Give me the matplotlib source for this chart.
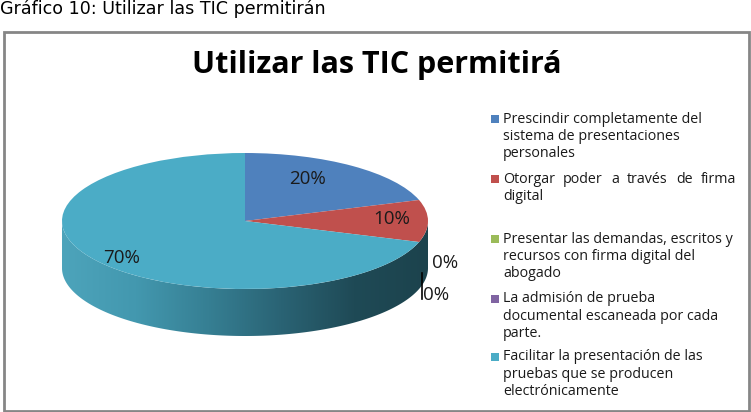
import numpy as np
import matplotlib
matplotlib.use("Agg")
import matplotlib.pyplot as plt
from matplotlib.patches import Rectangle, Polygon
from matplotlib.colors import LinearSegmentedColormap

# ---------------- data ----------------
caption = "Gráfico 10: Utilizar las TIC permitirán"
title = "Utilizar las TIC permitirá"
categories = [
    ["Prescindir completamente del", "sistema de presentaciones", "personales"],
    ["Otorgar poder a través de firma", "digital", ""],
    ["Presentar las demandas, escritos y", "recursos con firma digital del", "abogado"],
    ["La admisión de prueba", "documental escaneada por cada", "parte."],
    ["Facilitar la presentación de las", "pruebas que se producen", "electrónicamente"],
]
values = [20, 10, 0, 0, 70]
pct_labels = ["20%", "10%", "0%", "0%", "70%"]
colors = ["#4F81BD", "#C0504D", "#9BBB59", "#8064A2", "#4BACC6"]

W, H = 751, 412
fig = plt.figure(figsize=(W / 100, H / 100), dpi=100)
fig.patch.set_facecolor("white")

# overlay axes in pixel coordinates
bg = fig.add_axes([0, 0, 1, 1])
bg.set_xlim(0, W)
bg.set_ylim(H, 0)
bg.axis("off")

bg.text(0, 8.5, caption, fontsize=12.6, family="DejaVu Sans", va="center", ha="left", color="#000000")
bg.add_patch(Rectangle((3.5, 32), 745, 378.5, fill=False, edgecolor="#868686", linewidth=2))
bg.text(377, 65, title, fontsize=22, family="Open Sans", fontweight="bold", ha="center", va="center", color="#000000")

# ---------------- pie ----------------
cx, cy, rx, ry, depth_px = 245, 221, 183, 68, 47
x0p, x1p, y0p, y1p = 40, 450, 140, 345
ax = fig.add_axes([x0p / W, (H - y1p) / H, (x1p - x0p) / W, (y1p - y0p) / H])
ax.pie(values, colors=colors, startangle=90, counterclock=False, radius=1,
       wedgeprops=dict(linewidth=0), frame=False)
ax.set_aspect("auto")
ax.axis("off")
d = depth_px / ry

# front wall (visible half of the rim), shaded like the large slice
wall_cmap = LinearSegmentedColormap.from_list(
    "wall", ["#4DA4BB", "#4398AF", "#367F93", "#2A6374", "#1F4A56", "#1C434D"])
t = np.radians(np.linspace(180, 360, 300))
xs, ys = np.cos(t), np.sin(t)
poly = np.vstack([np.column_stack([xs, ys]), np.column_stack([xs[::-1], ys[::-1] - d])])
wall = Polygon(poly, closed=True, facecolor="none", edgecolor="none")
ax.add_patch(wall)
grad = np.linspace(0, 1, 256).reshape(1, -1)
im = ax.imshow(grad, cmap=wall_cmap, extent=[-1, 1, -1 - d, 0.05], aspect="auto", zorder=0.5)
im.set_clip_path(wall)
ax.set_xlim((x0p - cx) / rx, (x1p - cx) / rx)
ax.set_ylim(-(y1p - cy) / ry, (cy - y0p) / ry)

lab_font = dict(family="Open Sans", fontsize=13.5, color="#1A1A1A")
lab_pos = {0: (0.339, 0.618), 1: (0.803, 0.029), 4: (-0.672, -0.544)}
for i, (px, py) in lab_pos.items():
    ax.text(px, py, pct_labels[i], ha="center", va="center", **lab_font)
ax.text((445 - cx) / rx, -(263 - cy) / ry, pct_labels[2], ha="center", va="center", clip_on=False, **lab_font)
ax.text((423 - cx) / rx, -(295 - cy) / ry, pct_labels[3], ha="left", va="center", clip_on=False, **lab_font)
ax.plot([(422 - cx) / rx] * 2, [-(273 - cy) / ry, -(299 - cy) / ry], color="#000000", lw=1.2, clip_on=False)

# ---------------- legend ----------------
leg_font = dict(family="Open Sans", fontsize=10.25, color="#1A1A1A")
entry_y = [119, 179, 239, 299, 357]
line_h = 17.3
fig.canvas.draw()
renderer = fig.canvas.get_renderer()
for k, lines in enumerate(categories):
    y = entry_y[k]
    bg.add_patch(Rectangle((491, y - 4), 8, 8, facecolor=colors[k], edgecolor="none"))
    for j, line in enumerate(lines):
        if not line:
            continue
        yy = y + j * line_h
        if k == 1 and j == 0:
            words = line.split(" ")
            tws = []
            for w in words:
                tt = bg.text(0, 0, w, **leg_font)
                tws.append(tt.get_window_extent(renderer).width)
                tt.remove()
            gap = (736 - 503 - sum(tws)) / (len(words) - 1)
            xx = 503
            for w, tw in zip(words, tws):
                bg.text(xx, yy, w, ha="left", va="center", **leg_font)
                xx += tw + gap
        else:
            bg.text(503, yy, line, ha="left", va="center", **leg_font)

fig.savefig("out.png", dpi=100, facecolor="white")
